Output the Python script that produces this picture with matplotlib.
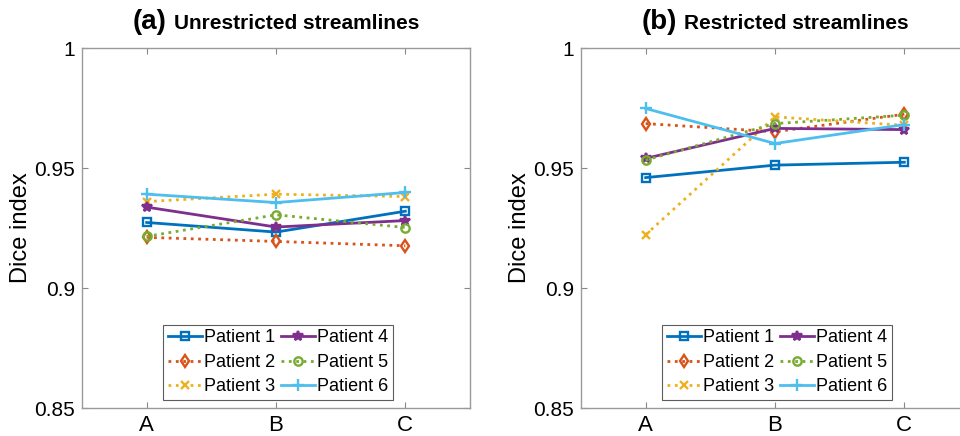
import matplotlib
matplotlib.use("Agg")
import matplotlib.pyplot as plt
from matplotlib.offsetbox import TextArea, HPacker, AnchoredOffsetbox

plt.rcParams['font.family'] = ['Liberation Sans', 'DejaVu Sans']

categories = ['A', 'B', 'C']
patients = ['Patient 1', 'Patient 2', 'Patient 3', 'Patient 4', 'Patient 5', 'Patient 6']

unrestricted = [
    [0.9273, 0.9233, 0.9320],
    [0.9211, 0.9194, 0.9176],
    [0.9360, 0.9391, 0.9381],
    [0.9337, 0.9254, 0.9281],
    [0.9215, 0.9305, 0.9252],
    [0.9391, 0.9356, 0.9398],
]
restricted = [
    [0.9460, 0.9512, 0.9524],
    [0.9685, 0.9651, 0.9724],
    [0.9222, 0.9713, 0.9678],
    [0.9540, 0.9665, 0.9660],
    [0.9533, 0.9685, 0.9720],
    [0.9748, 0.9602, 0.9681],
]

colors = ['#0072BD', '#D95319', '#EDB120', '#7E2F8E', '#77AC30', '#4DBEEE']
markers = ['s', 'd', 'x', '*', 'o', '+']
styles = ['-', ':', ':', '-', ':', '-']
msizes = [6, 6, 6, 7, 6, 9]

yticks = [0.85, 0.9, 0.95, 1.0]
yticklabels = ['0.85', '0.9', '0.95', '1']

fig = plt.figure(figsize=(9.6, 4.36), dpi=100)
axL = fig.add_axes([82/960, 28/436, 388/960, 360/436])
axR = fig.add_axes([581/960, 28/436, 388/960, 360/436])

def draw(ax, data, tag, title, legbox):
    x = list(range(1, len(categories) + 1))
    for i, vals in enumerate(data):
        mfc = colors[i] if markers[i] == '*' else 'none'
        ax.plot(x, vals, linestyle=styles[i], color=colors[i], marker=markers[i],
                markersize=msizes[i], markerfacecolor=mfc, markeredgewidth=1.7,
                linewidth=2.0, label=patients[i])
    ax.set_xlim(0.5, 3.5)
    ax.set_ylim(0.85, 1.0)
    ax.set_xticks(x)
    ax.set_xticklabels(categories, fontsize=16)
    ax.set_yticks(yticks)
    ax.set_yticklabels(yticklabels, fontsize=15)
    ax.set_ylabel('Dice index', fontsize=17, labelpad=2)
    ax.tick_params(direction='in', length=4, width=0.8, color='#888888',
                   top=True, right=True, pad=5)
    for s in ax.spines.values():
        s.set_color('#9a9a9a')
        s.set_linewidth(1.0)
    leg = ax.legend(ncol=2, loc='lower left', bbox_to_anchor=legbox,
                    fontsize=13, frameon=True, fancybox=False, edgecolor='#333333',
                    handlelength=1.9, handletextpad=0.12, columnspacing=0.3,
                    labelspacing=0.42, borderpad=0.25, borderaxespad=0.0, numpoints=1)
    leg.get_frame().set_linewidth(0.8)
    t1 = TextArea(tag, textprops=dict(fontsize=20, fontweight='bold'))
    t2 = TextArea(title, textprops=dict(fontsize=15, fontweight='bold'))
    box = HPacker(children=[t1, t2], align='baseline', pad=0, sep=5)
    anch = AnchoredOffsetbox(loc='lower center', child=box, pad=0, frameon=False,
                             bbox_to_anchor=(0.5, 1.035), bbox_transform=ax.transAxes,
                             borderpad=0)
    ax.add_artist(anch)

draw(axL, unrestricted, '(a)', 'Unrestricted streamlines', (81/388, 8/360))
draw(axR, restricted, '(b)', 'Restricted streamlines', (81/388, 8/360))

fig.savefig('out.png', dpi=100)
